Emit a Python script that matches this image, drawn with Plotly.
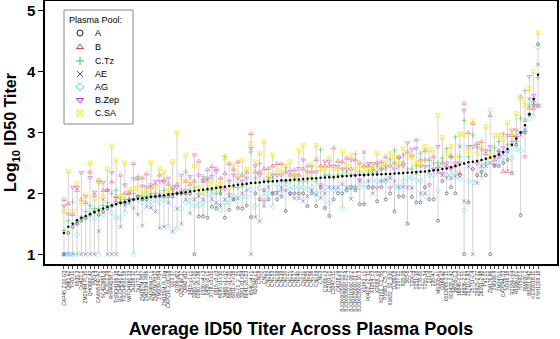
import plotly.graph_objects as go

viruses = ["CAP45.2.00.G3","Q461.e2","TRO.11","6535.3","Du422.1","ZM214M.PL15","QH0692.42","PVO.4","CAAN5342.A2","SC422661.8",
"AC10.0.29","RHPA4259.7","THRO4156.18","REJO4541.67","TRJO4551.58","WITO4160.33","Du156.12","Du172.17","ZM197M.PB7","ZM233M.PB6",
"ZM249M.PL1","ZM53M.PB12","ZM109F.PB4","ZM135M.PL10a","CAP210.2.00.E8","Q23.17","Q769.d22","Q259.d2.17","Q842.d12","3415.v1.c1",
"3365.v2.c20","0260.v5.c36","0330.v4.c3","0439.v5.c1","3718.v3.c11","0815.v3.c3","6095.v1.c10","3468.v1.c12","6952.v1.c20","6811.v7.c18",
"89-F1_2_25","3301.v1.c24","6041.v3.c23","6540.v4.c1","620345.c1","CNE8","CNE5","CNE52","CNE53","CNE58",
"CNE19","CNE20","CNE21","CNE17","CNE40","CNE11","CNE55","CNE56","CNE59","CNE3",
"C1080.c3","C2101.c1","C3347.c11","C4118.c9","BJOX002000.03.2","BJOX009000.02.4","BJOX010000.06.2","BJOX025000.01.1","BJOX028000.10.3","X1193_c1",
"P0402_c2_11","X1254_c3","X2088_c9","X2131_C1_B5","P1981_C5_3","X1632_S2_B10","DJ263.8","T257-31","928-28","263-8",
"T250-4","T251-18","T278-50","T255-34","211-9","235-47","MS208.A1","Q168.a2","0013095-2.11","001428-2.42",
"16055-2.3","16845-2.22","16936-2.21","25710-2.43","25711-2.4","25925-2.22","26191-2.48","TV1.21","ZM176.66","ZM106.9",
"ZM247v1","CAP244.D3","SO18.18","R2184.c04","R1166.c01","HT593.1","RW020.2","BB201.B42","KER2018.11","KNH1209.18"]

avg = [1.35,1.45,1.50,1.56,1.60,1.63,1.66,1.69,1.72,1.75,
1.78,1.80,1.82,1.84,1.86,1.88,1.90,1.91,1.92,1.93,
1.94,1.95,1.96,1.97,1.98,1.99,2.00,2.01,2.02,2.03,
2.04,2.05,2.06,2.07,2.08,2.09,2.10,2.11,2.12,2.13,
2.14,2.15,2.16,2.17,2.175,2.18,2.19,2.195,2.20,2.205,
2.21,2.215,2.22,2.225,2.23,2.235,2.24,2.245,2.25,2.255,
2.26,2.265,2.27,2.275,2.28,2.285,2.29,2.295,2.30,2.30,
2.305,2.31,2.31,2.315,2.32,2.32,2.325,2.33,2.335,2.34,
2.345,2.35,2.355,2.36,2.37,2.38,2.39,2.40,2.41,2.43,
2.45,2.47,2.49,2.51,2.52,2.53,2.55,2.57,2.59,2.61,
2.64,2.68,2.73,2.80,2.90,3.00,3.12,3.30,3.55,3.95]

pool_A = [1.0,1.35,1.45,1.50,1.55,1.60,1.65,1.70,1.65,1.70,
1.75,1.80,1.85,1.85,1.85,1.90,1.90,1.95,1.90,1.90,
1.95,1.95,1.95,1.95,1.95,1.95,2.00,2.00,2.00,2.00,
1.00,1.62,1.62,1.60,1.78,1.75,2.00,1.60,1.73,1.90,
1.76,1.75,1.80,1.61,2.00,1.90,2.05,1.90,2.00,1.90,
1.95,1.71,2.00,2.00,2.00,2.00,1.79,2.00,1.79,2.10,
1.76,1.63,1.90,2.00,2.00,2.05,2.10,2.05,1.82,1.82,
2.10,2.10,1.87,2.10,1.90,2.00,1.70,1.95,1.95,1.50,
1.94,1.85,1.85,2.10,1.90,1.90,1.55,2.20,2.00,2.10,
2.00,2.30,1.00,1.85,2.40,2.30,2.35,2.30,1.00,2.45,
2.45,2.50,2.55,2.33,2.80,1.64,3.00,3.30,3.45,4.45]

pool_B = [1.90,1.83,1.65,2.05,1.90,1.85,2.35,1.97,2.22,2.05,
2.05,2.19,1.95,2.30,2.00,2.00,2.49,2.24,2.26,2.32,
2.10,2.15,2.30,2.22,2.15,2.10,2.15,2.05,2.20,2.15,
2.20,2.53,2.20,2.39,2.44,2.41,2.25,2.33,2.49,2.39,
2.52,2.30,2.35,2.98,2.35,2.35,2.40,2.41,2.45,2.49,
2.49,2.35,2.30,2.39,2.30,2.40,2.45,2.35,2.55,2.45,
2.45,2.45,2.75,2.53,2.52,2.58,2.40,2.55,2.50,2.45,
2.45,2.40,2.50,2.52,2.60,2.45,2.50,2.60,2.50,2.68,
2.62,2.88,2.55,2.70,2.55,2.60,2.44,2.50,2.45,2.61,
2.45,2.33,3.48,3.00,3.15,2.82,2.85,2.65,3.28,2.55,
2.70,2.36,2.36,2.95,2.95,3.59,3.20,3.40,3.39,3.43]

pool_CTz = [1.39,1.55,1.86,1.00,1.60,1.70,1.80,1.75,1.75,1.80,
1.85,2.00,2.05,1.85,1.90,1.90,2.00,2.28,1.95,1.95,
2.00,2.00,2.00,2.05,2.00,2.00,2.00,2.00,2.35,2.05,
2.10,2.00,2.28,2.05,2.05,2.00,2.05,2.61,2.00,2.10,
2.10,2.12,2.15,2.68,2.25,2.49,2.20,2.20,2.25,2.03,
2.05,2.42,2.20,2.25,2.20,2.20,2.20,2.25,2.20,2.72,
2.30,2.30,2.25,2.30,2.30,2.35,2.30,2.65,2.35,2.30,
2.35,2.35,2.45,2.40,2.40,2.55,2.71,2.45,2.63,2.40,
2.40,2.45,2.66,2.55,2.45,2.50,2.50,2.58,2.74,2.60,
2.93,2.60,3.20,2.60,2.96,2.75,2.28,2.50,2.70,2.75,
2.85,2.98,2.80,2.85,2.85,3.23,3.69,3.45,3.50,3.90]

pool_AE = [1.00,1.00,1.00,1.52,1.00,1.00,1.00,1.00,1.38,1.90,
1.00,1.00,1.00,1.45,1.80,1.84,1.76,1.65,1.47,1.78,
1.76,1.70,1.43,1.45,1.85,1.37,1.75,1.50,1.90,1.67,
1.90,1.95,1.90,2.22,1.90,1.85,1.80,1.90,1.95,1.90,
1.92,2.00,2.05,1.00,1.61,1.54,1.79,2.10,2.00,2.00,
2.10,2.05,1.98,1.92,1.92,1.87,1.95,2.05,1.98,1.92,
2.00,2.10,2.10,2.10,2.15,2.10,1.91,2.10,2.20,2.68,
2.20,2.00,2.35,2.20,2.22,2.25,2.20,2.10,2.11,2.10,
2.09,2.33,2.00,2.00,2.35,2.38,2.35,2.30,2.26,2.25,
2.28,2.77,1.87,2.44,1.00,2.17,2.45,2.45,2.50,2.60,
2.68,2.65,2.68,2.79,2.89,2.96,3.05,3.55,3.53,4.12]

pool_AG = [1.00,1.00,1.00,1.32,1.60,1.60,1.73,1.60,1.00,1.65,
1.78,1.68,1.60,1.60,1.68,1.84,1.00,1.90,1.85,2.00,
1.85,1.90,1.85,1.90,1.46,2.10,1.42,1.75,1.85,1.88,
1.80,1.80,1.85,1.98,1.97,1.80,1.73,1.85,1.85,1.95,
2.20,1.95,1.95,2.06,1.79,2.09,1.95,2.00,1.79,2.15,
2.20,2.15,2.06,2.10,2.10,2.10,2.06,2.10,2.00,2.05,
2.10,1.84,2.05,2.05,1.76,2.06,2.10,2.10,2.10,2.15,
2.10,2.22,2.20,2.20,2.20,2.30,2.12,2.10,2.20,2.25,
2.25,2.22,2.20,1.96,2.30,2.30,2.05,2.45,2.30,2.30,
2.35,2.24,1.72,2.20,2.18,2.79,2.40,2.55,3.36,2.50,
2.55,2.60,2.70,2.58,2.73,2.70,3.03,3.23,3.27,4.40]

pool_BZep = [1.79,1.66,2.10,2.10,2.34,1.95,2.26,2.02,2.18,2.18,
2.05,2.34,1.92,1.92,2.14,2.02,2.24,1.95,2.12,2.10,
2.14,2.20,2.20,2.18,2.25,2.05,2.10,2.30,2.05,2.28,
2.63,2.30,2.22,2.25,2.28,2.36,2.10,2.07,2.20,2.30,
2.25,2.20,2.25,2.74,2.45,2.30,1.87,2.25,2.30,2.30,
2.30,2.20,2.36,2.30,2.41,2.55,2.35,2.44,2.35,2.14,
2.53,2.52,2.45,2.44,2.40,2.40,2.55,2.30,2.22,2.30,
2.49,2.49,2.09,2.40,2.45,2.09,2.40,2.58,2.45,2.83,
2.72,2.74,2.45,2.44,2.14,2.40,2.77,2.33,2.50,2.40,
2.50,2.50,3.36,2.77,2.77,2.49,2.72,2.70,2.77,2.47,
2.60,2.75,2.95,3.04,3.04,3.00,2.60,3.92,3.61,3.45]

pool_CSA = [1.71,2.36,1.70,2.16,1.85,1.97,2.50,1.90,2.20,1.95,
2.40,2.78,2.55,1.95,2.50,2.06,2.08,2.08,2.00,2.05,
2.51,2.10,2.41,2.35,2.05,2.52,3.00,2.20,2.63,2.20,
2.45,2.10,2.00,2.15,2.20,2.10,2.15,2.58,2.10,2.48,
2.30,2.55,2.40,2.82,2.52,2.66,2.85,2.30,2.63,2.38,
2.35,2.45,2.52,2.30,2.71,2.79,2.30,2.47,2.79,2.40,
2.40,2.58,2.40,2.40,2.68,2.45,2.63,2.40,2.45,2.40,
2.40,2.45,2.66,2.45,2.50,2.66,2.60,2.50,2.74,2.60,
2.60,2.50,2.50,2.77,2.72,2.71,3.28,2.92,2.66,2.77,
2.60,2.98,2.96,2.70,3.19,2.65,2.75,3.10,2.60,2.95,
2.96,2.90,3.17,3.00,3.31,3.55,3.45,3.72,4.00,4.64]

pool_names = ["A", "B", "C.Tz", "AE", "AG", "B.Zep", "C.SA"]
pool_values = [pool_A, pool_B, pool_CTz, pool_AE, pool_AG, pool_BZep, pool_CSA]
pool_symbols = ["circle-open", "triangle-up-open", "cross-thin-open", "x-thin-open",
                "diamond-open", "triangle-down-open", "square-x-open"]
pool_colors = ["rgba(60,60,60,0.7)", "rgba(225,50,70,0.6)", "rgba(40,190,40,0.55)",
               "rgba(50,50,210,0.55)", "rgba(30,215,225,0.55)", "rgba(210,30,210,0.55)",
               "rgba(245,235,30,0.75)"]
legend_colors = ["rgb(30,30,30)", "rgb(225,60,80)", "rgb(60,200,60)", "rgb(80,80,220)",
                 "rgb(60,220,230)", "rgb(215,50,215)", "rgb(240,235,60)"]

n = len(viruses)
xs = list(range(1, n + 1))

fig = go.Figure()

# min-max segments
lx, ly = [], []
for i in range(n):
    vals = [p[i] for p in pool_values]
    lx += [xs[i], xs[i], None]
    ly += [min(vals), max(vals), None]
fig.add_trace(go.Scatter(x=lx, y=ly, mode="lines", line=dict(color="#d2d2d2", width=1),
                         showlegend=False, hoverinfo="skip"))

for name, vals, sym, col in zip(pool_names, pool_values, pool_symbols, pool_colors):
    size = 3 if name == "A" else 4
    fig.add_trace(go.Scatter(x=xs, y=vals, mode="markers", name=name, showlegend=False,
                             marker=dict(symbol=sym, size=size, color=col,
                                         line=dict(color=col, width=0.8))))

fig.add_trace(go.Scatter(x=xs, y=avg, mode="markers", showlegend=False,
                         marker=dict(symbol="circle", size=2.5, color="black")))

# legend box drawn in plot-area fraction coordinates (x: 45..557 px, y: 1..264 px)
def px_x(p):
    return (p - 45) / 512.0

def px_y(p):
    return (264 - p) / 263.0

legend_rows = [33, 47, 61, 74, 87, 100, 113]
fig.add_trace(go.Scatter(x=[px_x(80)] * len(pool_names), y=[px_y(r) for r in legend_rows],
                         xaxis="x2", yaxis="y2", mode="markers", showlegend=False,
                         hoverinfo="skip",
                         marker=dict(symbol=pool_symbols, size=6, color=legend_colors,
                                     line=dict(color=legend_colors, width=1))))

fig.add_shape(type="rect", xref="x2", yref="y2", x0=px_x(64), x1=px_x(133),
              y0=px_y(124), y1=px_y(10), line=dict(color="#888", width=1),
              fillcolor="white", layer="below")

annotations = [dict(x=px_x(67), y=px_y(20), xref="x2", yref="y2", text="Plasma Pool:",
                    showarrow=False, xanchor="left", yanchor="middle",
                    font=dict(size=9, color="black"))]
for name, r in zip(pool_names, legend_rows):
    annotations.append(dict(x=px_x(93), y=px_y(r), xref="x2", yref="y2", text=name,
                            showarrow=False, xanchor="left", yanchor="middle",
                            font=dict(size=9, color="black")))

fig.update_layout(
    width=560, height=339,
    margin=dict(l=45, r=3, t=1, b=75, autoexpand=False),
    plot_bgcolor="white", paper_bgcolor="white",
    font=dict(family="Arial, Liberation Sans, sans-serif", color="black"),
    showlegend=False,
    annotations=annotations,
    xaxis=dict(range=[1 - 4.36, n + 4.36], tickmode="array", tickvals=xs, ticktext=viruses,
               tickangle=-90, tickfont=dict(size=5, color="#333"), automargin=False,
               ticks="outside", ticklen=3, tickcolor="#444", tickwidth=0.6,
               showgrid=False, zeroline=False, showline=True, linecolor="black",
               linewidth=1.5, mirror=True,
               title=dict(text="<b>Average ID50 Titer Across Plasma Pools</b>",
                          font=dict(size=18), standoff=38)),
    yaxis=dict(range=[0.84, 5.16], tickvals=[1, 2, 3, 4, 5],
               ticktext=["<b>1</b>", "<b>2</b>", "<b>3</b>", "<b>4</b>", "<b>5</b>"],
               tickfont=dict(size=15), ticks="outside", ticklen=5, tickcolor="black",
               automargin=False,
               showgrid=False, zeroline=False, showline=True, linecolor="black",
               linewidth=1.5, mirror=True,
               title=dict(text="<b>Log<sub>10</sub> ID50 Titer</b>", font=dict(size=16),
                          standoff=6)),
    xaxis2=dict(overlaying="x", range=[0, 1], visible=False, fixedrange=True),
    yaxis2=dict(overlaying="y", range=[0, 1], visible=False, fixedrange=True),
)

fig.write_html("out.html", config={"displayModeBar": False},
               post_script="document.body.style.margin='0px';document.body.style.padding='0px';")
